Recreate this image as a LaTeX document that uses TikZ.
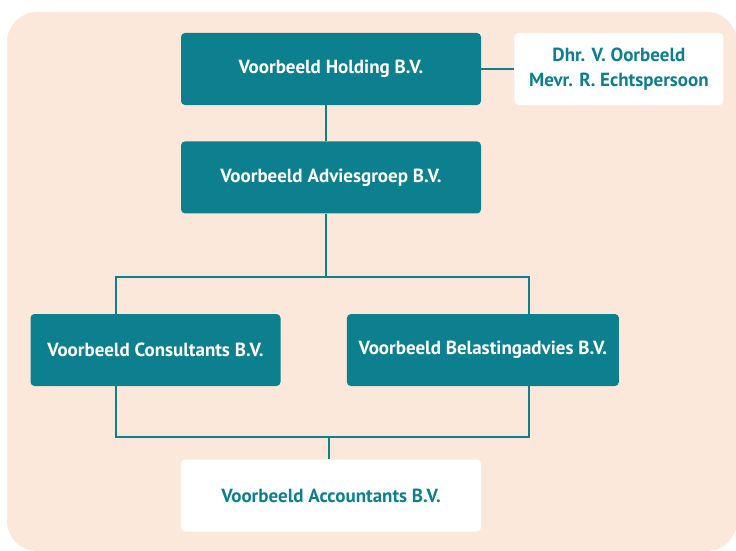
\documentclass[tikz,border=0pt]{standalone}
\usepackage{fontspec}
\setmainfont{PT Sans}
\usetikzlibrary{positioning}
\definecolor{teal}{RGB}{13,128,143}
\definecolor{peach}{RGB}{252,232,219}
\tikzset{
  firm/.style={fill=teal, text=white, font=\bfseries\fontsize{19}{25}\selectfont,
    rounded corners=4pt, minimum height=72pt, inner sep=0pt},
  outside/.style={firm, fill=white, text=teal},
  link/.style={draw=teal, line width=2pt}
}

\begin{document}
\begin{tikzpicture}[x=1pt,y=-1pt]
  \useasboundingbox (0,0) rectangle (736,551);
  \fill[peach, rounded corners=30pt] (7,12) rectangle (737,551);
  % Tell it where the nodes are
  \node (holding) [firm, minimum width=300pt] at (331,69) {Voorbeeld Holding B.V.};
  \node (persons) [outside, minimum width=209pt, align=center, right=33pt of holding]
    {Dhr. V. Oorbeeld\\Mevr. R. Echtspersoon};
  \node (advies) [firm, minimum width=300pt, below=36pt of holding] {Voorbeeld Adviesgroep B.V.};
  \node (cons) [firm, minimum width=250pt] at (155.5,350) {Voorbeeld Consultants B.V.};
  \node (belasting) [firm, minimum width=272pt, right=66pt of cons] {Voorbeeld Belastingadvies B.V.};
  \node (acc) [outside, minimum width=300pt] at (331,495.5) {Voorbeeld Accountants B.V.};
  % Tell it where the lines split
  \coordinate (top) at (326,277);
  \coordinate (bottom) at (329,437);
  \coordinate (left) at (116,0);
  \coordinate (right) at (529,0);
  % Tell it what lines to draw
  \draw[link] (holding.east) -- (persons.west);
  \draw[link] (top |- holding.south) -- (top |- advies.north);
  \draw[link] (top |- advies.south) -- (top);
  \draw[link] (left |- cons.north) -- (left |- top) -- (right |- top) -- (right |- belasting.north);
  \draw[link] (left |- cons.south) -- (left |- bottom) -- (right |- bottom) -- (right |- belasting.south);
  \draw[link] (bottom) -- (bottom |- acc.north);
\end{tikzpicture}
\end{document}
